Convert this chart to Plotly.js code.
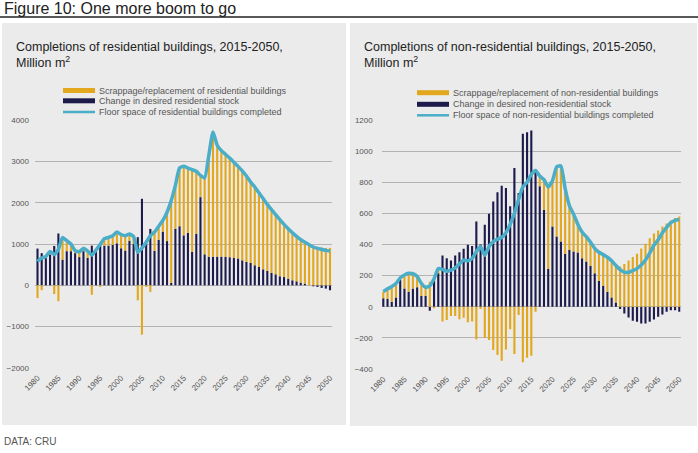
<!DOCTYPE html>
<html>
<head>
<meta charset="utf-8">
<script src="https://cdn.plot.ly/plotly-3.0.1.min.js"></script>
<style>html,body{margin:0;padding:0;background:#fff;}#chart{width:698px;height:453px;}</style>
</head>
<body>
<div id="chart"></div>
<script>
// ---------- DATA ----------
var years = [1980,1981,1982,1983,1984,1985,1986,1987,1988,1989,1990,1991,1992,1993,1994,1995,1996,1997,1998,1999,
2000,2001,2002,2003,2004,2005,2006,2007,2008,2009,2010,2011,2012,2013,2014,2015,2016,2017,2018,2019,
2020,2021,2022,2023,2024,2025,2026,2027,2028,2029,2030,2031,2032,2033,2034,2035,2036,2037,2038,2039,
2040,2041,2042,2043,2044,2045,2046,2047,2048,2049,2050];
var xTicks = [1980,1985,1990,1995,2000,2005,2010,2015,2020,2025,2030,2035,2040,2045,2050];

// Residential (Million m2)
var resStock = [889,778,659,746,953,1255,620,826,826,778,683,826,667,960,820,1000,960,960,977,1016,
897,842,1080,1000,1165,2095,1080,1365,830,1100,1300,1070,56,1370,1430,1210,1270,806,1250,2135,
750,693,693,693,693,690,680,660,650,605,565,540,484,443,387,347,298,266,218,200,
161,121,97,64,40,0,-24,-40,-64,-80,-120];
var resScrap = [-310,-118,41,74,-213,-385,540,254,174,62,127,74,163,-230,30,-40,170,200,223,274,
333,358,160,180,-365,-1195,-40,-160,460,330,270,700,1994,1050,1410,1670,1570,1994,1510,525,
1850,2457,3017,2697,2567,2480,2400,2320,2230,2165,2080,1960,1896,1797,1713,1613,1532,1444,1372,1275,
1209,1152,1088,1040,1000,983,945,925,915,905,905];
var resTotal = [580,660,700,820,740,870,1160,1080,1000,840,810,900,830,730,850,990,1130,1160,1200,1290,
1230,1200,1240,1180,800,900,1040,1200,1290,1430,1570,1770,2050,2420,2840,2880,2840,2800,2760,2660,
2600,3150,3710,3390,3260,3170,3080,2980,2880,2770,2645,2500,2380,2240,2100,1960,1830,1710,1590,1475,
1370,1273,1185,1104,1040,983,927,895,870,846,830];

// Non-residential (Million m2)
var nonStock = [54,50,32,60,172,118,97,118,125,69,69,-26,190,215,329,312,297,329,350,372,
398,391,548,400,527,598,677,735,778,763,645,892,731,1111,1122,1133,882,774,624,243,
516,452,419,340,365,355,348,312,290,262,215,166,135,97,60,28,-15,-43,-69,-90,
-97,-108,-108,-97,-82,-65,-50,-32,-22,-22,-32];
var nonScrap = [43,60,95,90,15,86,115,95,70,80,56,161,-10,30,-95,-85,-60,-60,-80,-70,
-100,-95,-210,-15,-200,-214,-278,-310,-347,-274,-145,-304,-53,-357,-327,-315,-32,66,193,527,
294,448,486,420,285,240,182,168,160,153,160,184,200,221,235,237,258,275,297,320,
340,375,405,440,470,490,515,535,555,570,580];
var nonTotal = [97,115,130,150,185,204,215,212,195,150,125,135,180,245,240,228,235,250,275,300,
295,310,355,385,330,387,419,435,445,475,530,600,690,770,800,850,875,840,817,770,
810,900,905,760,650,595,530,480,450,415,375,350,335,318,295,265,238,222,222,232,
245,268,300,345,395,430,475,510,540,555,560];

var figTitle = 'Figure 10: One more boom to go';
var leftTitle = 'Completions of residential buildings, 2015-2050,<br>Million m<sup>2</sup>';
var rightTitle = 'Completions of non-residential buildings, 2015-2050,<br>Million m<sup>2</sup>';
var leftLegend = ['Scrappage/replacement of residential buildings','Change in desired residential stock','Floor space of residential buildings completed'];
var rightLegend = ['Scrappage/replacement of non-residential buildings','Change in desired non-residential stock','Floor space of non-residential buildings completed'];
var source = 'DATA: CRU';

// ---------- STYLE ----------
var W = 698, H = 453;
var GOLD = '#e2a71c', NAVY = '#1d1a4c', BLUE = '#4aaec9', PANEL = '#ebebeb', GRID = '#b3b3b3', TICK = '#555555';
var FONT = 'Liberation Sans, Arial, sans-serif';
function px(x){return x/W;}
function py(y){return 1 - y/H;}

var traces = [
  {type:'bar', x:years, y:resStock, xaxis:'x', yaxis:'y', marker:{color:NAVY}, showlegend:false},
  {type:'bar', x:years, y:resScrap, xaxis:'x', yaxis:'y', marker:{color:GOLD}, showlegend:false},
  {type:'scatter', mode:'lines', x:years, y:resTotal, xaxis:'x', yaxis:'y', line:{color:BLUE, width:3.5, shape:'spline', smoothing:0.5}, showlegend:false},
  {type:'bar', x:years, y:nonStock, xaxis:'x2', yaxis:'y2', marker:{color:NAVY}, showlegend:false},
  {type:'bar', x:years, y:nonScrap, xaxis:'x2', yaxis:'y2', marker:{color:GOLD}, showlegend:false},
  {type:'scatter', mode:'lines', x:years, y:nonTotal, xaxis:'x2', yaxis:'y2', line:{color:BLUE, width:3.5, shape:'spline', smoothing:0.5}, showlegend:false}
];

function xAxis(domain, range, anchor){
  return {domain:domain, range:range, anchor:anchor, tickmode:'array', tickvals:xTicks, ticktext:xTicks.map(String),
    tickangle:-45, showgrid:false, zeroline:false, showline:false, ticks:'', ticklabelstandoff:3,
    tickfont:{family:FONT, size:8, color:TICK}, fixedrange:true};
}
function yAxis(domain, range, dtick, anchor, standoff){
  return {domain:domain, range:range, dtick:dtick, anchor:anchor, showgrid:true, gridcolor:GRID, gridwidth:1,
    zeroline:false, showline:false, ticks:'', ticklabelstandoff:standoff, tickfont:{family:FONT, size:8, color:TICK}, fixedrange:true};
}

var shapes = [
  {type:'rect', xref:'paper', yref:'paper', x0:px(2), x1:px(346), y0:py(425), y1:py(23), fillcolor:PANEL, line:{width:0}, layer:'below'},
  {type:'rect', xref:'paper', yref:'paper', x0:px(350), x1:px(697), y0:py(426), y1:py(23), fillcolor:PANEL, line:{width:0}, layer:'below'},
  {type:'line', xref:'paper', yref:'paper', x0:0, x1:1, y0:py(17), y1:py(17), line:{color:'#222', width:1.3}}
];
var annotations = [
  {text:figTitle, xref:'paper', yref:'paper', x:px(2), y:py(9), xanchor:'left', yanchor:'middle', showarrow:false, font:{family:FONT, size:16, color:'#222'}},
  {text:leftTitle, xref:'paper', yref:'paper', x:px(14), y:py(55.5), xanchor:'left', yanchor:'middle', align:'left', showarrow:false, font:{family:FONT, size:12.5, color:'#222'}},
  {text:rightTitle, xref:'paper', yref:'paper', x:px(362), y:py(55.5), xanchor:'left', yanchor:'middle', align:'left', showarrow:false, font:{family:FONT, size:12.5, color:'#222'}},
  {text:source, xref:'paper', yref:'paper', x:px(2), y:py(441), xanchor:'left', yanchor:'middle', showarrow:false, font:{family:FONT, size:10, color:'#555'}}
];

function addLegend(x0, x1, rows, labels){
  var cols = [GOLD, NAVY, BLUE], widths = [5, 5, 2.5];
  for (var i=0;i<3;i++){
    shapes.push({type:'line', xref:'paper', yref:'paper', x0:px(x0), x1:px(x1), y0:py(rows[i]), y1:py(rows[i]), line:{color:cols[i], width:widths[i]}});
    annotations.push({text:labels[i], xref:'paper', yref:'paper', x:px(x1+2), y:py(rows[i]), xanchor:'left', yanchor:'middle', showarrow:false, font:{family:FONT, size:9, color:'#555'}});
  }
}
addLegend(63, 95, [90.5, 100.8, 112], leftLegend);
addLegend(417, 449, [92.7, 104.3, 115.3], rightLegend);

var layout = {
  width:W, height:H, margin:{l:0, r:0, t:0, b:0},
  paper_bgcolor:'#ffffff', plot_bgcolor:'rgba(0,0,0,0)',
  barmode:'relative', bargap:0.5,
  showlegend:false,
  font:{family:FONT},
  xaxis: xAxis([px(35), px(332)], [1979.4, 2050.48], 'y'),
  yaxis: yAxis([py(367.9), py(120.1)], [-2000, 4000], 1000, 'x', 5),
  xaxis2: xAxis([px(381.7), px(680.7)], [1979.62, 2050.33], 'y2'),
  yaxis2: yAxis([py(369), py(120)], [-400, 1200], 200, 'x2', 8),
  shapes: shapes,
  annotations: annotations
};

Plotly.newPlot('chart', traces, layout, {staticPlot:true, displayModeBar:false});
</script>
</body>
</html>
